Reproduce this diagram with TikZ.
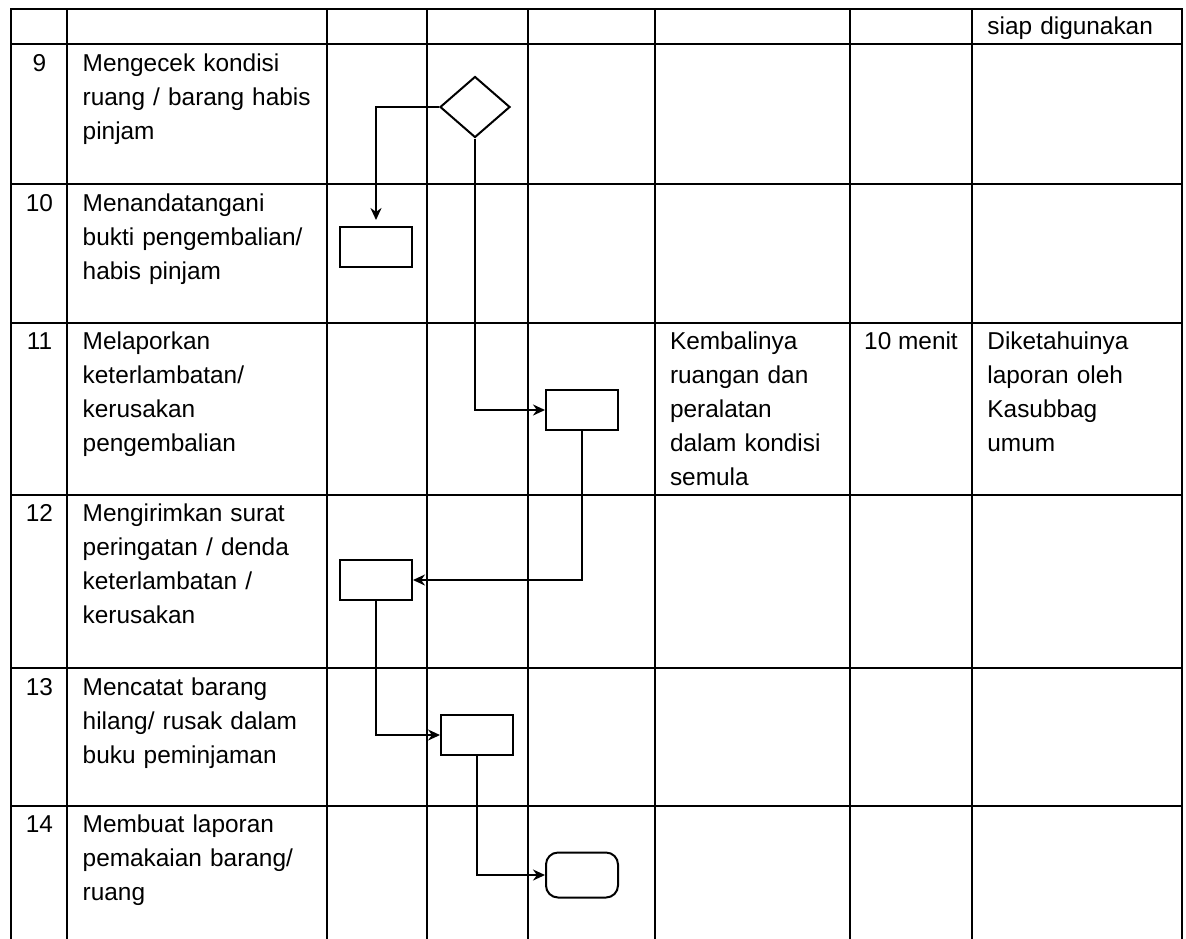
\documentclass[tikz,border=0pt]{standalone}
\usepackage{fontspec}
\setmainfont{Liberation Sans}
\usetikzlibrary{positioning,shapes.geometric,arrows.meta}

\begin{document}
\begin{tikzpicture}[
    x=0.5pt, y=-0.5pt,
    grid/.style={line width=1pt, line cap=rect},
    txt/.style={anchor=base west, inner sep=0pt, align=left, text width=125pt, font=\fontsize{12.2}{17}\selectfont},
    num/.style={anchor=base, inner sep=0pt, font=\fontsize{12.2}{17}\selectfont},
    proc/.style={rectangle, draw, line width=1pt, minimum width=36pt, minimum height=20pt, inner sep=0pt},
    decision/.style={diamond, draw, line width=1pt, minimum width=35pt, minimum height=30.5pt, inner sep=0pt},
    terminal/.style={rectangle, rounded corners=6pt, draw, line width=1pt, minimum width=36pt, minimum height=22.5pt, inner sep=0pt},
    arrow/.style={-{Stealth[length=6pt,width=5.5pt]}, line width=1pt}
]

\useasboundingbox (0,0) rectangle (1186,938);

\draw[grid] (11,9) -- (1182,9);
\draw[grid] (11,44) -- (1182,44);
\draw[grid] (11,184) -- (1182,184);
\draw[grid] (11,323) -- (1182,323);
\draw[grid] (11,495) -- (1182,495);
\draw[grid] (11,668) -- (1182,668);
\draw[grid] (11,806) -- (1182,806);

\draw[grid] (11,9) -- (11,938);
\draw[grid] (67,9) -- (67,938);
\draw[grid] (327,9) -- (327,938);
\draw[grid] (427,9) -- (427,938);
\draw[grid] (528,9) -- (528,938);
\draw[grid] (655,9) -- (655,938);
\draw[grid] (850,9) -- (850,938);
\draw[grid] (972,9) -- (972,938);
\draw[grid] (1182,9) -- (1182,938);

\node[txt] (hdr) at (987,34.3) {siap digunakan};

\node[num] (n9) at (39.5,71) {9};
\node[txt] (t9) at (82.3,71) {Mengecek kondisi\\ruang / barang habis\\pinjam};
\node[num] (n10) at (39.5,211.3) {10};
\node[txt] (t10) at (82.3,211.3) {Menandatangani\\bukti pengembalian/\\habis pinjam};
\node[num] (n11) at (39.5,349.7) {11};
\node[txt] (t11) at (82.3,349.7) {Melaporkan\\keterlambatan/\\kerusakan\\pengembalian};
\node[num] (n12) at (39.5,521.7) {12};
\node[txt] (t12) at (82.3,521.7) {Mengirimkan surat\\peringatan / denda\\keterlambatan /\\kerusakan};
\node[num] (n13) at (39.5,695.3) {13};
\node[txt] (t13) at (82.3,695.3) {Mencatat barang\\hilang/ rusak dalam\\buku peminjaman};
\node[num] (n14) at (39.5,832.7) {14};
\node[txt] (t14) at (82.3,832.7) {Membuat laporan\\pemakaian barang/\\ruang};

\node[txt] (out11) at (669.6,349.7) {Kembalinya\\ruangan dan\\peralatan\\dalam kondisi\\semula};
\node[num] (time11) at (911,349.7) {10 menit};
\node[txt] (res11) at (987,349.7) {Diketahuinya\\laporan oleh\\Kasubbag\\umum};

\node[decision] (d9) at (475,107) {};
\node[proc] (b10) at (376,247) {};
\node[proc] (b11) at (582,410) {};
\node[proc] (b12) at (376,580) {};
\node[proc] (b13) at (477,735) {};
\node[terminal] (e14) at (582,875) {};

\draw[arrow, shorten >=3pt] (d9.west) -| (b10.north);
\draw[arrow] (d9.south) |- (b11.west);
\draw[arrow] (b11.south) |- (b12.east);
\draw[arrow] (b12.south) |- (b13.west);
\draw[arrow] (b13.south) |- (e14.west);

\end{tikzpicture}
\end{document}
